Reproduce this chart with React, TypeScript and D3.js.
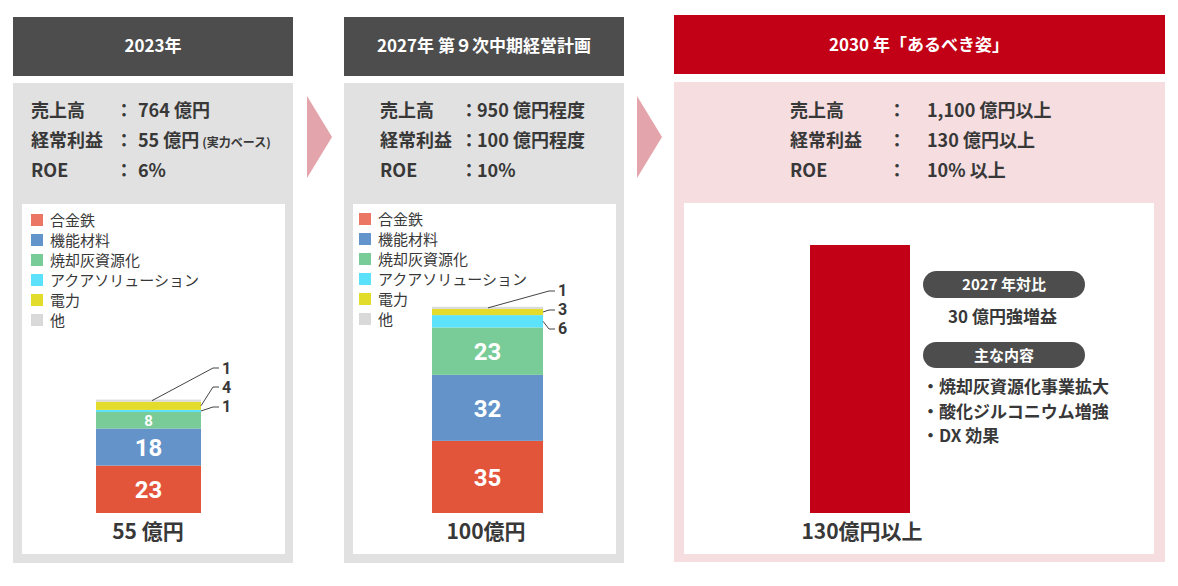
import React from 'react';
import * as d3 from 'd3';

const segmentNames = ['合金鉄', '機能材料', '焼却灰資源化', 'アクアソリューション', '電力', '他'];
const legendColors = ['#ec7664', '#6394cb', '#78cc97', '#5be1f9', '#e2dc2d', '#d9d9d9'];
const barColors = ['#e2553b', '#6393c9', '#79cb97', '#5ce2fa', '#e3dc2d', '#d9d9d9'];
const values2023 = [23, 18, 8, 1, 4, 1];
const values2027 = [35, 32, 23, 6, 3, 1];
const value2030 = 130;
const titles = ['2023年', '2027年 第９次中期経営計画', '2030 年「あるべき姿」'];
const metricLabels = ['売上高', '経常利益', 'ROE'];
const metrics2023 = ['764 億円', '55 億円', '6%'];
const metrics2027 = ['950 億円程度', '100 億円程度', '10%'];
const metrics2030 = ['1,100 億円以上', '130 億円以上', '10% 以上'];
const note2023 = '(実力ベース)';
const totalLabels = ['55 億円', '100億円', '130億円以上'];
const compareTitle = '2027 年対比';
const compareText = '30 億円強増益';
const contentTitle = '主な内容';
const contentItems = ['焼却灰資源化事業拡大', '酸化ジルコニウム増強', 'DX 効果'];

const FONT = "'Noto Sans CJK JP', 'Noto Sans', sans-serif";
const NUMFONT = "Roboto, 'Noto Sans', sans-serif";
const TXT = '#383838';

const y = d3.scaleLinear().domain([0, 130]).range([513, 245]);

type Callout = { ex: number; ey: number; lx: number; ly: number; sx?: number };

function StackedBar({ values, x, w, callouts }: { values: number[]; x: number; w: number; callouts: (Callout | null)[] }) {
  const ends = Array.from(d3.cumsum(values));
  return (
    <g>
      {values.map((v, i) => {
        const y0 = ends[i] - v;
        const y1 = ends[i];
        const top = y(y1);
        const h = y(y0) - y(y1);
        const mid = (top + y(y0)) / 2;
        const co = callouts[i];
        return (
          <g key={i}>
            <rect x={x} y={top} width={w} height={h} fill={barColors[i]} />
            {v >= 8 && (
              <text x={x + w / 2} y={mid} dy="0.36em" textAnchor="middle" fill="#fff" fontWeight={700}
                fontSize={v >= 10 ? 24 : 15} fontFamily={NUMFONT}>{v}</text>
            )}
            {co && (
              <g>
                <polyline
                  points={`${co.sx ?? x + w},${mid} ${co.ex},${co.ey} ${co.ex + 6},${co.ey}`}
                  fill="none" stroke="#444" strokeWidth={1} />
                <text x={co.lx} y={co.ly} fontSize={16} fontWeight={700} fill={TXT} fontFamily={NUMFONT}>{v}</text>
              </g>
            )}
          </g>
        );
      })}
    </g>
  );
}

function Legend({ x, y0 }: { x: number; y0: number }) {
  return (
    <g>
      {segmentNames.map((n, i) => (
        <g key={i}>
          <rect x={x} y={y0 + i * 20} width={12} height={12} fill={legendColors[i]} />
          <text x={x + 19} y={y0 + i * 20 + 11.5} fontSize={15} fill={TXT} fontFamily={FONT}>{n}</text>
        </g>
      ))}
    </g>
  );
}

function Metrics({ lx, cx, vx, values, note }: { lx: number; cx: number; vx: number; values: string[]; note?: string }) {
  return (
    <g fontFamily={FONT} fontWeight={700} fill={TXT} fontSize={18}>
      {metricLabels.map((l, i) => (
        <g key={i}>
          <text x={lx} y={117 + i * 30}>{l}</text>
          <text x={cx} y={117 + i * 30} textAnchor="middle">：</text>
          <text x={vx} y={117 + i * 30}>
            {values[i]}
            {i === 1 && note ? <tspan fontSize={12} dx={3}>{note}</tspan> : null}
          </text>
        </g>
      ))}
    </g>
  );
}

function Arrow({ x }: { x: number }) {
  return <path d={`M${x},96 L${x + 25},137 L${x},178 Z`} fill="#e4a4ab" />;
}

export default function App() {
  const callouts2023: (Callout | null)[] = [
    null, null, null,
    { ex: 213, ey: 407, lx: 222, ly: 412 },
    { ex: 213, ey: 387, lx: 222, ly: 393 },
    { sx: 152, ex: 213, ey: 368, lx: 222, ly: 374 },
  ];
  const callouts2027: (Callout | null)[] = [
    null, null, null,
    { ex: 549, ey: 329, lx: 558, ly: 334 },
    { ex: 549, ey: 310, lx: 558, ly: 315 },
    { sx: 488, ex: 549, ey: 291, lx: 558, ly: 296 },
  ];
  return (
    <svg width={1178} height={586} style={{ position: 'absolute', left: 0, top: 0, background: '#fff' }}>
      {/* Panel 1 */}
      <rect x={13} y={17} width={280} height={59} fill="#4d4d4d" />
      <text x={153} y={52} textAnchor="middle" fill="#fff" fontSize={17} fontWeight={700} fontFamily={FONT}>{titles[0]}</text>
      <rect x={13} y={83} width={280} height={480} fill="#e1e1e1" />
      <Metrics lx={31} cx={124} vx={138} values={metrics2023} note={note2023} />
      <rect x={22} y={204} width={263} height={350} fill="#fff" />
      <Legend x={31} y0={214} />
      <StackedBar values={values2023} x={96} w={105} callouts={callouts2023} />
      <text x={148} y={539} textAnchor="middle" fontSize={21} fontWeight={700} fill={TXT} fontFamily={FONT}>{totalLabels[0]}</text>

      <Arrow x={307} />

      {/* Panel 2 */}
      <rect x={344} y={17} width={280} height={59} fill="#4d4d4d" />
      <text x={484} y={52} textAnchor="middle" fill="#fff" fontSize={17} fontWeight={700} fontFamily={FONT}>{titles[1]}</text>
      <rect x={344} y={83} width={280} height={480} fill="#e1e1e1" />
      <Metrics lx={380} cx={469} vx={477} values={metrics2027} />
      <rect x={353} y={204} width={263} height={350} fill="#fff" />
      <Legend x={359} y0={213} />
      <StackedBar values={values2027} x={432} w={111} callouts={callouts2027} />
      <text x={486} y={539} textAnchor="middle" fontSize={21} fontWeight={700} fill={TXT} fontFamily={FONT}>{totalLabels[1]}</text>

      <Arrow x={637} />

      {/* Panel 3 */}
      <rect x={674} y={15} width={491} height={59} fill="#c20016" />
      <text x={919} y={51} textAnchor="middle" fill="#fff" fontSize={17} fontWeight={700} fontFamily={FONT}>{titles[2]}</text>
      <rect x={674} y={82} width={491} height={480} fill="#f5dde0" />
      <Metrics lx={790} cx={897} vx={927} values={metrics2030} />
      <rect x={684} y={203} width={470} height={351} fill="#fff" />
      <rect x={810} y={y(value2030)} width={100} height={y(0) - y(value2030)} fill="#c20016" />
      <text x={862} y={539} textAnchor="middle" fontSize={21} fontWeight={700} fill={TXT} fontFamily={FONT}>{totalLabels[2]}</text>

      <rect x={923} y={271} width={162} height={27} rx={13.5} fill="#4d4d4d" />
      <text x={1004} y={290} textAnchor="middle" fill="#fff" fontSize={15} fontWeight={700} fontFamily={FONT}>{compareTitle}</text>
      <text x={948} y={323} fill={TXT} fontSize={17} fontWeight={700} fontFamily={FONT}>{compareText}</text>
      <rect x={923} y={342} width={162} height={26} rx={13} fill="#4d4d4d" />
      <text x={1004} y={361} textAnchor="middle" fill="#fff" fontSize={15} fontWeight={700} fontFamily={FONT}>{contentTitle}</text>
      {contentItems.map((t, i) => (
        <text key={i} x={922} y={393 + i * 24.5} fill={TXT} fontSize={17} fontWeight={700} fontFamily={FONT}>
          ・{t}
        </text>
      ))}
    </svg>
  );
}
